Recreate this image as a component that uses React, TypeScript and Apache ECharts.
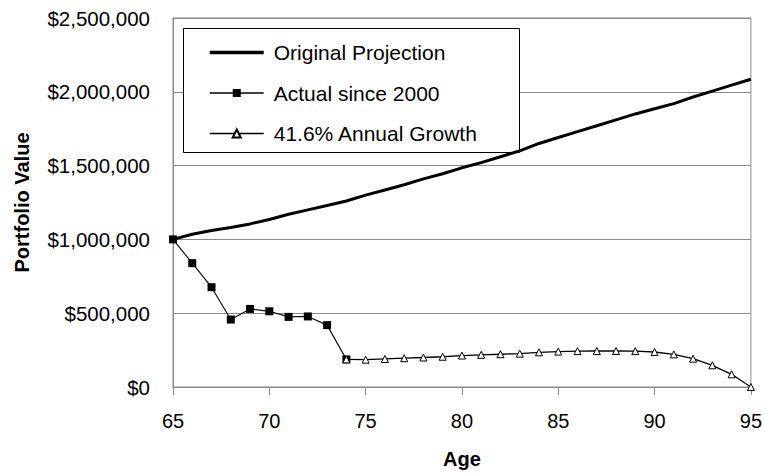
import React, { useEffect, useRef } from "react";
import * as echarts from "echarts";

const ages = [65, 66, 67, 68, 69, 70, 71, 72, 73, 74, 75, 76, 77, 78, 79, 80, 81, 82, 83, 84, 85, 86, 87, 88, 89, 90, 91, 92, 93, 94, 95];
const projection = [1000000, 1035000, 1060000, 1080000, 1105000, 1135000, 1170000, 1200000, 1230000, 1260000, 1300000, 1335000, 1370000, 1410000, 1445000, 1485000, 1520000, 1560000, 1600000, 1650000, 1690000, 1730000, 1770000, 1810000, 1850000, 1885000, 1920000, 1965000, 2005000, 2045000, 2085000];
const actualAges = [65, 66, 67, 68, 69, 70, 71, 72, 73, 74];
const actual = [1000000, 839000, 676000, 457000, 529000, 513000, 475000, 478000, 419000, 187000];
const growthAges = [74, 75, 76, 77, 78, 79, 80, 81, 82, 83, 84, 85, 86, 87, 88, 89, 90, 91, 92, 93, 94, 95];
const growth = [187000, 185000, 190000, 195000, 200000, 205000, 213000, 218000, 222000, 226000, 235000, 240000, 243000, 244000, 244000, 243000, 237000, 221000, 192000, 147000, 86000, 0];
const seriesNames = ["Original Projection", "Actual since 2000", "41.6% Annual Growth"];

const FONT = "Arial, 'Liberation Sans', sans-serif";
const GRID = "#8a8a8a";

export default function App() {
  const ref = useRef<HTMLDivElement>(null);
  useEffect(() => {
    document.body.style.margin = "0";
    const chart = echarts.init(ref.current!, null, { renderer: "svg" });
    const pair = (xs: number[], ys: number[]) => xs.map((x, i) => [x, ys[i]]);
    chart.setOption({
      animation: false,
      backgroundColor: "#fff",
      textStyle: { fontFamily: FONT },
      grid: {
        left: 173, right: 14, top: 18, bottom: 84,
        show: true, borderColor: GRID, borderWidth: 1,
      },
      xAxis: {
        type: "value", min: 65, max: 95, interval: 5,
        name: "Age", nameLocation: "middle", nameGap: 62,
        nameTextStyle: { fontSize: 20, fontWeight: "bold", color: "#000", fontFamily: FONT },
        axisLine: { lineStyle: { color: GRID, width: 1 } },
        axisTick: { show: true, length: 8, lineStyle: { color: GRID } },
        axisLabel: { margin: 24, fontSize: 20, color: "#000", fontFamily: FONT },
        splitLine: { show: false },
      },
      yAxis: {
        type: "value", min: 0, max: 2500000, interval: 500000,
        name: "Portfolio Value", nameLocation: "middle", nameGap: 141,
        nameTextStyle: { fontSize: 20, fontWeight: "bold", color: "#000", fontFamily: FONT },
        axisLine: { show: true, lineStyle: { color: GRID, width: 1 } },
        axisTick: { show: false },
        axisLabel: {
          margin: 23, fontSize: 20.5, color: "#000", fontFamily: FONT,
          formatter: (v: number) => "$" + v.toLocaleString("en-US"),
        },
        splitLine: { show: true, lineStyle: { color: GRID, width: 1 } },
      },
      graphic: [
        {
          type: "rect", z: 3, left: 183, top: 28,
          shape: { width: 336, height: 124 },
          style: { fill: "#fff", stroke: "#000", lineWidth: 1 },
        },
      ],
      legend: {
        orient: "vertical", left: 183, top: 28, z: 5,
        padding: [14, 0, 0, 25],
        itemWidth: 54, itemHeight: 10, itemGap: 19.5,
        data: [
          { name: seriesNames[0], itemStyle: { opacity: 0 }, lineStyle: { width: 3.5, color: "#000" } },
          { name: seriesNames[1], lineStyle: { width: 1.5, color: "#000" } },
          { name: seriesNames[2], lineStyle: { width: 1.5, color: "#000" } },
        ],
        textStyle: { fontSize: 21, color: "#000", fontFamily: FONT, padding: [0, 0, 0, 5] },
      },
      series: [
        {
          name: seriesNames[0], type: "line", data: pair(ages, projection),
          symbol: "none", clip: false,
          lineStyle: { color: "#000", width: 3 },
          itemStyle: { color: "#000" },
        },
        {
          name: seriesNames[1], type: "line", data: pair(actualAges, actual),
          symbol: "rect", symbolSize: 8, clip: false,
          lineStyle: { color: "#111", width: 1.2 },
          itemStyle: { color: "#000" },
        },
        {
          name: seriesNames[2], type: "line", data: pair(growthAges, growth),
          symbol: "triangle", symbolSize: 7, clip: false,
          lineStyle: { color: "#000", width: 1.3 },
          itemStyle: { color: "#fff", borderColor: "#000", borderWidth: 1 },
        },
      ],
    });
    return () => chart.dispose();
  }, []);
  return <div ref={ref} style={{ width: 765, height: 474 }} />;
}
